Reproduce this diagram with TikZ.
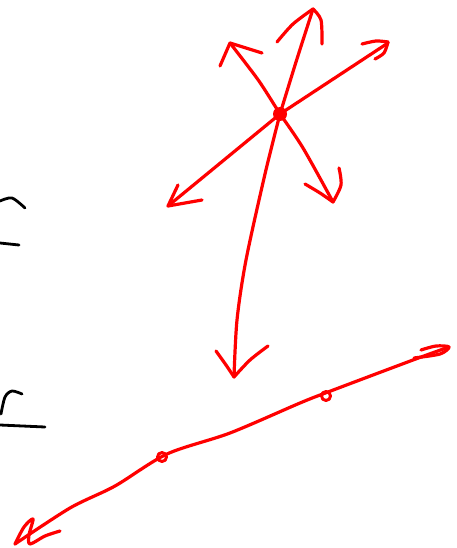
\documentclass[tikz,border=0pt]{standalone}
\begin{document}
\begin{tikzpicture}[x=1pt,y=-1pt,
  ink/.style={draw=red,line width=3.2pt,line cap=round,line join=round},
  pen/.style={draw=black,line width=2.8pt,line cap=round,line join=round}]
\useasboundingbox (0,0) rectangle (457,548);
% black marks at left
\draw[pen] plot[smooth] coordinates {(0,201) (12,198) (25,208)};
\draw[pen] (0,243) -- (19,245);
\draw[pen] plot[smooth] coordinates {(1,414) (5,397) (12,391) (22,394)};
\draw[pen] (0,425) -- (45,427);
% centre
\coordinate (c) at (280,114);
\fill[red] (c) circle (7);
% up arrow
\draw[ink] plot[smooth] coordinates {(c) (296,62) (313,9)};
\draw[ink] plot[smooth] coordinates {(277,42) (293,24) (313,9)};
\draw[ink] plot[smooth] coordinates {(313,9) (321,20) (322,44)};
% upper-left arrow
\draw[ink] plot[smooth] coordinates {(c) (261,84) (247,65) (230,43)};
\draw[ink] (220,66) -- (230,43) -- (262,53);
% upper-right arrow
\draw[ink] (c) -- (388,43);
\draw[ink] plot[smooth] coordinates {(362,44) (376,41) (388,42)};
\draw[ink] plot[smooth] coordinates {(388,42) (384,53) (375,59)};
% lower-left arrow
\draw[ink] (c) -- (168,206);
\draw[ink] (178,185) -- (168,206) -- (202,200);
% lower-right arrow
\draw[ink] plot[smooth] coordinates {(c) (303,148) (333,202)};
\draw[ink] plot[smooth] coordinates {(305,184) (320,193) (333,202)};
\draw[ink] plot[smooth] coordinates {(339,168) (341,185) (333,202)};
% down arrow
\draw[ink] plot[smooth] coordinates {(c) (265,174) (246,260) (237,320) (234,377)};
\draw[ink] plot[smooth] coordinates {(216,351) (226,365) (234,377)};
\draw[ink] plot[smooth] coordinates {(268,346) (250,360) (234,377)};
% long line
\draw[ink] plot[smooth] coordinates {(15,544) (70,508) (115,486) (167,454) (230,433) (300,403) (328,392) (413,360) (449,347)};
\draw[ink] plot[smooth] coordinates {(15,544) (24,527) (33,519) (29,535) (30,544) (45,536) (60,531)};
\draw[ink] plot[smooth] coordinates {(421,350) (436,346) (449,347) (440,354) (414,358)};
% small loops on the line
\draw[ink,line width=3pt] (162,457) circle (4.5);
\draw[ink,line width=3pt] (326,396) circle (4.5);
\end{tikzpicture}
\end{document}
